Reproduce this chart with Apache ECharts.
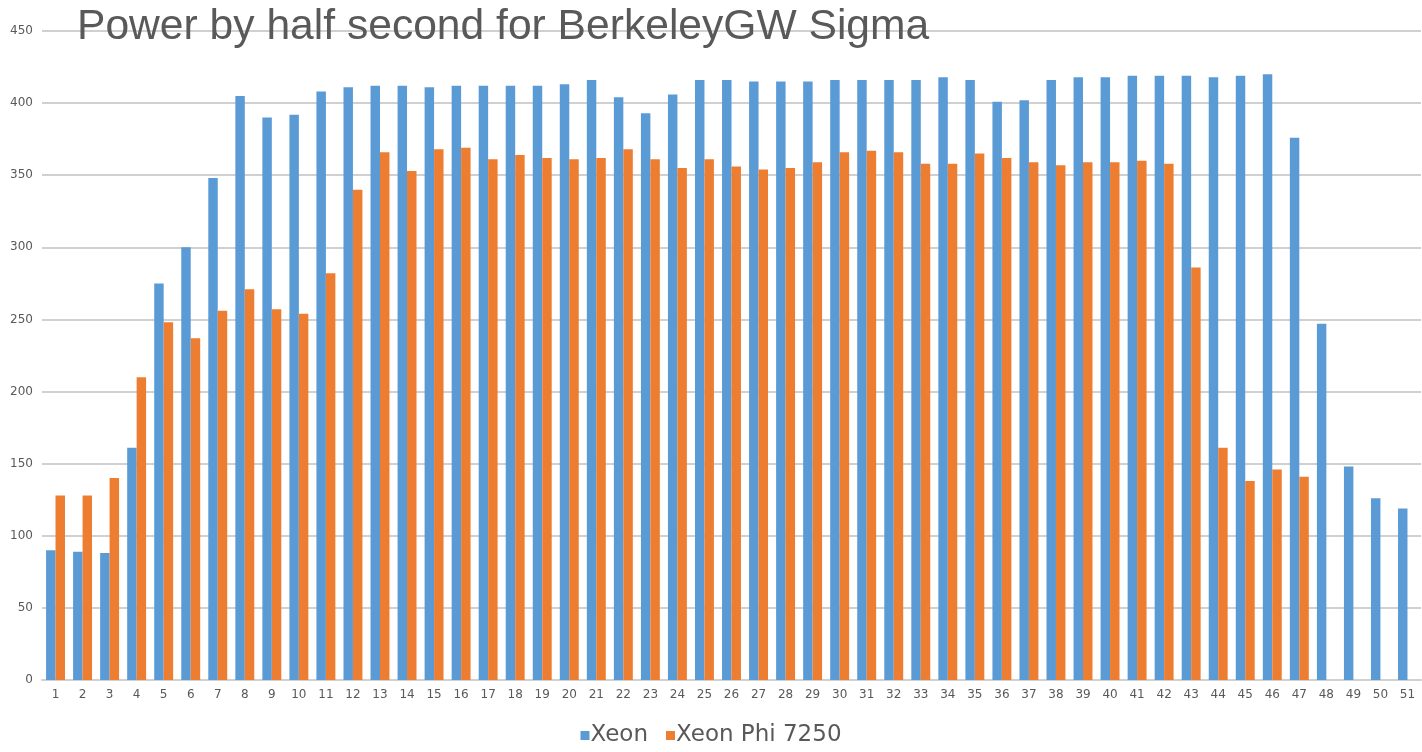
<!DOCTYPE html>
<html>
<head>
<meta charset="utf-8">
<title>Power by half second for BerkeleyGW Sigma</title>
<script src="https://cdn.jsdelivr.net/npm/echarts@6/dist/echarts.min.js"></script>
<style>
  html, body { margin: 0; padding: 0; background: #ffffff; }
  #chart { width: 1422px; height: 752px; }
</style>
</head>
<body>
<div id="chart"></div>
<script>
// Half-second sample index
const categories = Array.from({ length: 51 }, (_, i) => String(i + 1));

// Power draw (W) per half-second sample
const xeon = [
  90, 89, 88, 161, 275, 300, 348, 405, 390, 392,
  408, 411, 412, 412, 411, 412, 412, 412, 412, 413,
  416, 404, 393, 406, 416, 416, 415, 415, 415, 416,
  416, 416, 416, 418, 416, 401, 402, 416, 418, 418,
  419, 419, 419, 418, 419, 420, 376, 247, 148, 126,
  119
];

const xeonPhi7250 = [
  128, 128, 140, 210, 248, 237, 256, 271, 257, 254,
  282, 340, 366, 353, 368, 369, 361, 364, 362, 361,
  362, 368, 361, 355, 361, 356, 354, 355, 359, 366,
  367, 366, 358, 358, 365, 362, 359, 357, 359, 359,
  360, 358, 286, 161, 138, 146, 141, null, null, null,
  null
];

const yTicks = { min: 0, max: 450, interval: 50 };

const chart = echarts.init(document.getElementById('chart'), null, { renderer: 'canvas' });

const labelColor = '#595959';
const gridColor = '#d0d0d0';

chart.setOption({
  animation: false,
  backgroundColor: '#ffffff',
  title: {
    text: 'Power by half second for BerkeleyGW Sigma',
    left: 72,
    top: 1,
    textStyle: {
      fontFamily: 'Liberation Sans, Arial, sans-serif',
      fontSize: 42.6,
      fontWeight: 'normal',
      color: labelColor
    }
  },
  legend: {
    bottom: 0,
    left: 'center',
    itemWidth: 9,
    itemHeight: 9,
    itemGap: 18,
    icon: 'rect',
    textStyle: {
      fontFamily: 'DejaVu Sans, sans-serif',
      fontSize: 23,
      color: labelColor,
      padding: [0, 0, 0, -4]
    },
    data: ['Xeon', 'Xeon Phi 7250']
  },
  grid: {
    left: 42,
    right: 1,
    top: 31,
    bottom: 72,
    containLabel: false
  },
  xAxis: {
    type: 'category',
    data: categories,
    axisTick: { show: false },
    axisLine: { lineStyle: { color: gridColor, width: 2 } },
    axisLabel: {
      interval: 0,
      margin: 9,
      fontFamily: 'DejaVu Sans, sans-serif',
      fontSize: 12,
      color: labelColor
    }
  },
  yAxis: {
    type: 'value',
    min: yTicks.min,
    max: yTicks.max,
    interval: yTicks.interval,
    axisLine: { show: false },
    axisTick: { show: false },
    axisLabel: {
      margin: 9,
      fontFamily: 'DejaVu Sans, sans-serif',
      fontSize: 12,
      color: labelColor
    },
    splitLine: { lineStyle: { color: gridColor, width: 2 } }
  },
  series: [
    {
      name: 'Xeon',
      type: 'bar',
      data: xeon,
      barWidth: '35%',
      barGap: '0%',
      itemStyle: { color: '#5B9BD5' }
    },
    {
      name: 'Xeon Phi 7250',
      type: 'bar',
      data: xeonPhi7250,
      barWidth: '35%',
      barGap: '0%',
      itemStyle: { color: '#ED7D31' }
    }
  ]
});
</script>
</body>
</html>
